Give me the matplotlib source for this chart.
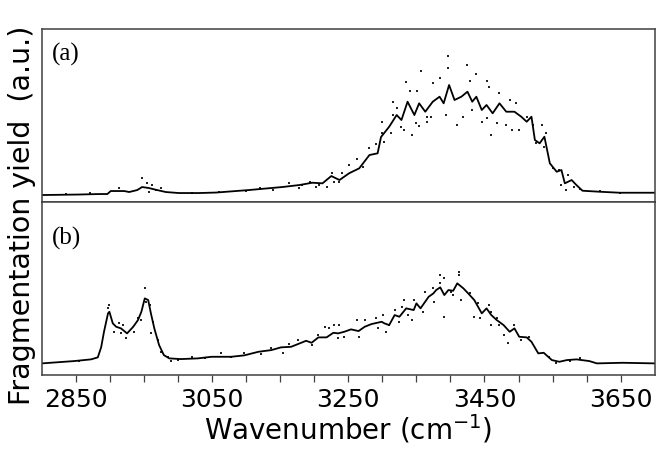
import matplotlib
matplotlib.use('Agg')
import matplotlib.pyplot as plt

# ---- panel (a): smoothed trace and raw points ----
wn_a = [2800, 2854, 2884, 2896, 2901, 2921, 2928, 2940, 2947, 2957, 2969, 2982, 3001, 3031,
        3056, 3104, 3153, 3178, 3197, 3212, 3225, 3237, 3251, 3266, 3281, 3293, 3298, 3310,
        3321, 3328, 3337, 3347, 3354, 3363, 3374, 3384, 3390, 3398, 3406, 3416, 3425, 3432,
        3438, 3446, 3453, 3462, 3472, 3482, 3494, 3504, 3512, 3519, 3524, 3531, 3538, 3546,
        3556, 3563, 3568, 3578, 3585, 3594, 3619, 3649, 3700]
yld_a = [7, 7.5, 8, 8, 11, 11, 10, 12, 15, 14, 12, 10, 9, 9,
         9.5, 12, 15, 17, 19.3, 18.7, 26, 22, 28.7, 33.7, 47, 48.7, 65, 75.3,
         87, 82, 100.3, 87, 98.7, 90.3, 100.3, 105.3, 98.7, 117, 102, 105.3, 110.3, 100.3,
         105.3, 92, 97, 88.7, 98.7, 90.3, 90.3, 85.3, 80.3, 85.3, 62, 58.7, 65.3, 38.7,
         30.3, 32, 18.7, 22, 17, 11.3, 10.3, 9.3, 9.3]

pts_wn_a = [3397, 3397, 3425, 3438, 3357, 3335, 3428, 3453, 3384, 3374, 3457, 3340, 3351,
            3315, 3315, 3300, 3299, 3303, 3322, 3328, 3344, 3350, 3365, 3372, 3394, 3410,
            3418, 3432, 3446, 3453, 3460, 3468, 3472, 3487, 3497, 3482, 3491, 3501, 3513,
            3521, 3534, 3526, 3541, 3538, 3550, 3560, 3572, 3569, 3563, 3251, 3263, 3281,
            3291, 3226, 3237, 3207, 3193, 3182, 3163, 3178, 3203, 3218, 3229, 3241, 3271,
            3313, 3332, 3354, 3365, 2947, 2954, 2962, 2957, 2968, 2975, 2913, 3590, 3582,
            3619, 3649, 3140, 3120, 3100, 3060, 3020, 2870, 2835]
pts_a = [146, 134, 137, 128, 131, 120, 121, 121, 124, 119, 115, 111, 111,
         100, 87, 80, 69, 60, 94, 75, 67, 79, 85, 85, 87, 77,
         85, 92, 80, 84, 67, 79, 109, 102, 99, 77, 72, 72, 85,
         77, 77, 59, 69, 55, 34, 32, 27, 12, 17, 37, 43, 54,
         58, 29, 20, 17, 20, 17, 19, 14, 15, 15, 20, 29, 35,
         69, 72, 76, 80, 24, 19, 17, 10, 12, 14, 14, 13, 15,
         11, 9, 12, 14, 11, 10, 9, 9, 8]

# ---- panel (b) ----
wn_b = [2800, 2847, 2872, 2882, 2887, 2891, 2897, 2899, 2904, 2909, 2916, 2925, 2934, 2941,
        2946, 2951, 2956, 2960, 2965, 2972, 2979, 2987, 3004, 3029, 3049, 3078, 3097, 3118,
        3137, 3151, 3166, 3176, 3188, 3196, 3206, 3218, 3228, 3235, 3244, 3254, 3265, 3274,
        3284, 3299, 3303, 3310, 3318, 3325, 3335, 3346, 3350, 3356, 3368, 3375, 3379, 3385,
        3391, 3397, 3404, 3410, 3419, 3426, 3435, 3446, 3453, 3460, 3468, 3478, 3487, 3494,
        3501, 3512, 3519, 3529, 3537, 3549, 3560, 3571, 3585, 3604, 3615, 3653, 3700]
yld_b = [11.7, 14, 15.7, 17.7, 28, 43, 61.7, 63.3, 51.7, 48.3, 46.7, 41.7, 48.3, 55,
         63.3, 76.7, 75, 61.7, 46.7, 30, 20, 16.7, 16, 16.7, 18.3, 18.3, 19.7, 23.3,
         25, 27.7, 28.3, 31, 34.3, 32.3, 37.7, 37.7, 42.3, 41.7, 43.3, 45.7, 44, 48.3,
         51, 53.3, 51.7, 50, 60, 58.3, 66.7, 65, 71.7, 66.7, 78.3, 81.7, 85, 87.7,
         80, 85, 84.3, 91.7, 86.7, 81.7, 75, 61.7, 66.7, 60, 55, 50, 43.3, 46.7,
         38.3, 37.7, 33.3, 21.7, 22.3, 15, 13.3, 15, 15.7, 14, 11.7, 12.3, 11.7]

pts_wn_b = [2899, 2897, 2906, 2913, 2919, 2916, 2924, 2935, 2941, 2946, 2951, 2953, 2959,
            2963, 2960, 2971, 2975, 2985, 3229, 3237, 3262, 3274, 3235, 3221, 3206, 3196,
            3176, 3154, 3163, 3137, 3122, 3097, 3078, 3063, 3244, 3265, 3291, 3293, 3215,
            3412, 3413, 3384, 3390, 3384, 3362, 3375, 3391, 3401, 3404, 3416, 3428, 3441,
            3456, 3460, 3468, 3434, 3443, 3460, 3472, 3485, 3479, 3494, 3504, 3515, 3332,
            3347, 3338, 3343, 3318, 3325, 3306, 3309, 3301, 3360, 3376, 3329, 2854,
            3000, 3020, 3040, 2990, 3545, 3555, 3575, 3590]
pts_b = [70, 67, 43, 52, 50, 42, 37, 43, 57, 55, 87, 73, 70,
         53, 42, 35, 23, 18, 50, 50, 55, 55, 37, 47, 40, 30,
         35, 22, 31, 27, 21, 22, 18, 22, 38, 38, 57, 47, 48,
         103, 100, 100, 97, 92, 83, 87, 58, 83, 80, 75, 82, 72,
         70, 63, 57, 58, 57, 50, 50, 32, 40, 50, 35, 38, 75,
         75, 60, 55, 65, 53, 43, 50, 60, 63, 73, 68, 14,
         15, 18, 17, 14, 18, 12, 14, 17]

tick_pos = list(range(2850, 3700, 50))
tick_lab = ['2850', '', '', '', '3050', '', '', '', '3250', '', '', '', '3450', '', '', '', '3650']

edge = '#404040'

fig, (ax_a, ax_b) = plt.subplots(2, 1, figsize=(6.56, 4.53), dpi=100, sharex=True)
fig.subplots_adjust(left=0.064, right=0.998, top=0.936, bottom=0.172, hspace=0)

for ax, wn, y, pwn, py, lab, ly in [(ax_a, wn_a, yld_a, pts_wn_a, pts_a, '(a)', 0.85),
                                    (ax_b, wn_b, yld_b, pts_wn_b, pts_b, '(b)', 0.79)]:
    ax.plot(pwn, py, linestyle='none', marker='s', markersize=1.7,
            color='#222222', markeredgewidth=0)
    ax.plot(wn, y, color='black', linewidth=1.3)
    ax.set_ylim(0, 173)
    ax.set_yticks([])
    ax.set_xlim(2800, 3700)
    for sp in ax.spines.values():
        sp.set_color(edge)
        sp.set_linewidth(1.1)
    ax.tick_params(axis='x', direction='out', length=5, width=0.9, color=edge,
                   top=False, bottom=True)
    ax.text(0.016, ly, lab, transform=ax.transAxes, ha='left', va='center',
            fontsize=18, family='Liberation Serif')

ax_b.set_xticks(tick_pos)
ax_b.set_xticklabels(tick_lab, fontsize=18)
ax_b.tick_params(axis='x', pad=4)
ax_b.set_xlabel('Wavenumber (cm$^{-1}$)', fontsize=20, labelpad=1)

fig.text(0.034, 0.525, 'Fragmentation yield  (a.u.)', rotation=90, ha='center',
         va='center', fontsize=20.5)

plt.savefig('out.png', dpi=100, facecolor='white')
plt.close()
